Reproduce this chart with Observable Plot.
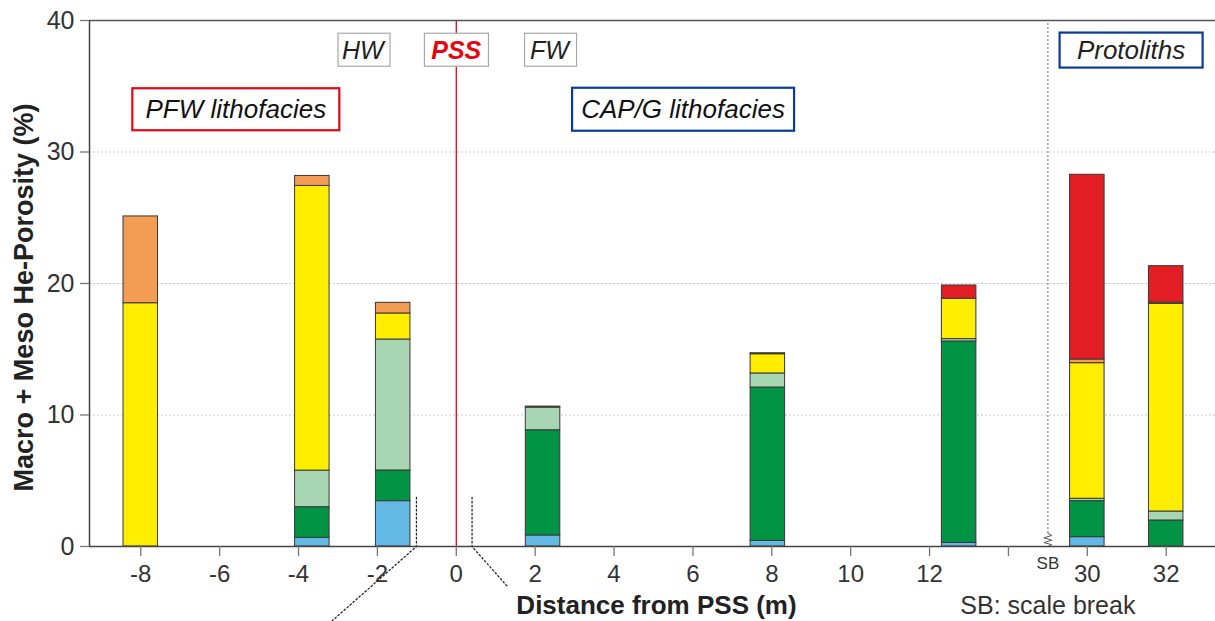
<!DOCTYPE html>
<html>
<head>
<meta charset="utf-8">
<script src="https://cdn.jsdelivr.net/npm/d3@7"></script>
<script src="https://cdn.jsdelivr.net/npm/@observablehq/plot@0.6"></script>
<style>
  html, body { margin: 0; padding: 0; background: #fff; }
  #chart svg { display: block; }
</style>
</head>
<body>
<div id="chart"></div>
<script>
// Sample positions along the traverse (m from the PSS); protolith samples plot beyond the scale break
const distances = [-8, -3.65, -1.6, 2.2, 7.9, 12.75, 30, 32];

// Porosity fractions per sample (%), stacked bottom to top in this order
const classes = ["blue", "dark green", "light green", "yellow", "orange", "red"];
const blue       = [0,    0.66,  3.45, 0.84, 0.43,  0.28,  0.71, 0];
const darkGreen  = [0,    2.33,  2.33, 8.0,  11.66, 15.31, 2.74, 1.98];
const lightGreen = [0,    2.78,  9.96, 1.72, 1.07,  0.18,  0.18, 0.68];
const yellow     = [18.5, 21.65, 1.98, 0,    1.46,  3.07,  10.31, 15.79];
const orange     = [6.6,  0.76,  0.81, 0.08, 0.08,  0,     0.28, 0.1];
const red        = [0,    0,     0,    0,    0,     1.01,  14.05, 2.77];

// Axis ticks in metres (14 carries a tick but no label)
const xTicks = [-8, -6, -4, -2, 0, 2, 4, 6, 8, 10, 12, 14, 30, 32];
const yTicks = [0, 10, 20, 30, 40];

// Scale break: distances from 29 m on are pulled left by 14 m of axis
const breakAt = 15;
const breakGap = 14;
const pos = d => (d > breakAt ? d - breakGap : d);
const unpos = p => (p > breakAt ? p + breakGap : p);

const classColors = ["#63b8e4", "#009444", "#a8d5b2", "#ffed00", "#f39c53", "#e31d24"];
const series = [blue, darkGreen, lightGreen, yellow, orange, red];

// Tidy rows for the stacked bars; zero fractions are skipped
const rows = [];
distances.forEach((d, i) => {
  classes.forEach((c, k) => {
    const v = series[k][i];
    if (v > 0) rows.push({distance: d, cls: c, value: v});
  });
});

const halfWidth = 0.4375;

// Callout guides leaving the PSS zone
const calloutLeft  = [{x: -1.01, y: 3.73}, {x: -1.01, y: 0}, {x: -3.14, y: -5.63}];
const calloutRight = [{x: 0.4, y: 3.73}, {x: 0.4, y: 0}, {x: 1.32, y: -3.12}];

// Zig-zag marking the break on the x axis (axis units)
const breakZigzag = [
  {x: 15, y: 1.0}, {x: 15.1, y: 0.84}, {x: 14.9, y: 0.66},
  {x: 15.1, y: 0.48}, {x: 14.9, y: 0.3}, {x: 15.1, y: 0.14}, {x: 15, y: 0}
];

const font = "'Liberation Sans', Arial, Helvetica, sans-serif";

const plot = Plot.plot({
  width: 1215,
  height: 621,
  marginTop: 20,
  marginBottom: 75,
  marginLeft: 89,
  marginRight: 0,
  x: {domain: [-9.3, pos(33.25)]},
  y: {domain: [0, 40]},
  color: {domain: classes, range: classColors},
  style: {fontFamily: font, fontSize: "25px", color: "#333", background: "#fff", overflow: "visible"},
  marks: [
    Plot.ruleY([10, 20, 30], {stroke: "#c8c8c8", strokeDasharray: "2,2", strokeWidth: 1}),
    Plot.rectY(rows, {
      x1: d => pos(d.distance) - halfWidth,
      x2: d => pos(d.distance) + halfWidth,
      y: "value",
      fill: "cls",
      stroke: "#383838",
      strokeWidth: 1
    }),
    Plot.ruleX([0], {stroke: "#e30613", strokeWidth: 1.3}),
    Plot.ruleX([breakAt], {y1: 1.0, y2: 40, stroke: "#777", strokeDasharray: "1.5,2.5", strokeWidth: 1.4}),
    Plot.line(breakZigzag, {x: "x", y: "y", stroke: "#555", strokeWidth: 1}),
    Plot.line(calloutLeft, {x: "x", y: "y", stroke: "#222", strokeDasharray: "1.5,2.5", strokeWidth: 1.3}),
    Plot.line(calloutRight, {x: "x", y: "y", stroke: "#222", strokeDasharray: "1.5,2.5", strokeWidth: 1.3}),
    Plot.ruleY([0], {stroke: "#444", strokeWidth: 1.5}),
    Plot.ruleY([40], {stroke: "#555", strokeWidth: 1.5}),
    Plot.ruleX([-9.3], {stroke: "#444", strokeWidth: 1.5}),
    Plot.axisY({
      ticks: yTicks, tickSize: 9, tickPadding: 6, fontSize: 25,
      label: null, color: "#333", stroke: "#777", strokeWidth: 1.3
    }),
    Plot.axisX({
      ticks: xTicks.map(pos),
      tickFormat: p => (p === 14 ? "" : String(unpos(p))),
      tickSize: 10, tickPadding: 8, fontSize: 24,
      label: null, color: "#333", stroke: "#777", strokeWidth: 1.3
    }),
    Plot.text(["Macro + Meso He-Porosity (%)"], {
      frameAnchor: "left", textAnchor: "middle", lineAnchor: "middle", rotate: -90, dx: -65, dy: 14,
      fontSize: 27, fontWeight: "bold", fill: "#222"
    }),
    Plot.text(["Distance from PSS (m)"], {
      frameAnchor: "bottom", lineAnchor: "middle", dx: 4, dy: 59,
      fontSize: 26, fontWeight: "bold", fill: "#222"
    }),
    Plot.text(["SB: scale break"], {x: () => breakAt, frameAnchor: "bottom", lineAnchor: "middle", dy: 59, fontSize: 25, fill: "#333"}),
    Plot.text(["SB"], {x: () => breakAt, frameAnchor: "bottom", lineAnchor: "middle", dy: 17, fontSize: 17, fill: "#333"}),
    // Zone and lithofacies labels
    Plot.text(["HW"], {x: () => -2.37, y: () => 37.7, fontSize: 25, fontStyle: "italic", fill: "#222"}),
    Plot.text(["PSS"], {x: () => 0, y: () => 37.7, fontSize: 25, fontStyle: "italic", fontWeight: "bold", fill: "#e30613"}),
    Plot.text(["FW"], {x: () => 2.36, y: () => 37.7, fontSize: 25, fontStyle: "italic", fill: "#222"}),
    Plot.text(["PFW lithofacies"], {x: () => -5.59, y: () => 33.2, fontSize: 26, fontStyle: "italic", fill: "#111"}),
    Plot.text(["CAP/G lithofacies"], {x: () => 5.75, y: () => 33.2, fontSize: 26, fontStyle: "italic", fill: "#111"}),
    Plot.text(["Protoliths"], {x: () => pos(31.11), y: () => 37.7, fontSize: 26, fontStyle: "italic", fill: "#222"})
  ]
});

document.getElementById("chart").appendChild(plot);

// Framed labels: white box with a coloured outline behind each text
const frames = {
  "HW":                {w: 52,  h: 33, stroke: "#a8a8a8", sw: 1.2},
  "PSS":               {w: 64,  h: 33, stroke: "#a8a8a8", sw: 1.2},
  "FW":                {w: 52,  h: 33, stroke: "#a8a8a8", sw: 1.2},
  "PFW lithofacies":   {w: 207, h: 42, stroke: "#e30613", sw: 2.2},
  "CAP/G lithofacies": {w: 222, h: 43, stroke: "#0b3a9a", sw: 2.2},
  "Protoliths":        {w: 143, h: 35, stroke: "#0b3a9a", sw: 2.2}
};
const ns = "http://www.w3.org/2000/svg";
plot.querySelectorAll("text").forEach(t => {
  const f = frames[t.textContent];
  if (!f) return;
  const bb = t.getBBox();
  const cx = bb.x + bb.width / 2, cy = bb.y + bb.height / 2;
  const r = document.createElementNS(ns, "rect");
  r.setAttribute("x", cx - f.w / 2);
  r.setAttribute("y", cy - f.h / 2);
  r.setAttribute("width", f.w);
  r.setAttribute("height", f.h);
  r.setAttribute("fill", "#fff");
  r.setAttribute("stroke", f.stroke);
  r.setAttribute("stroke-width", f.sw);
  const tr = t.getAttribute("transform");
  if (tr) r.setAttribute("transform", tr);
  t.parentNode.insertBefore(r, t);
});
</script>
</body>
</html>
